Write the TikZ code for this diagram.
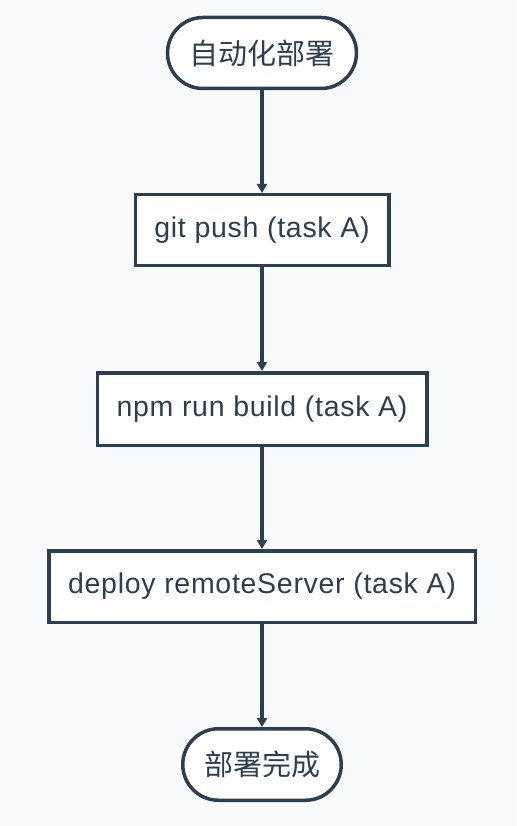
\documentclass[tikz,border=0pt]{standalone}
\usepackage{fontspec}
\usepackage{tikz}
\usetikzlibrary{arrows.meta}
\setmainfont{Liberation Sans}[LetterSpace=2.5]
\newfontfamily\cjk{Noto Sans CJK SC}
\definecolor{ink}{HTML}{2C3E50}
\definecolor{paper}{HTML}{F8F9FB}

\begin{document}
\begin{tikzpicture}[x=1pt,y=-1pt]

  \fill[paper] (0,0) rectangle (516,826);
  \useasboundingbox (0,0) rectangle (516,826);

  \begin{scope}[every node/.style={draw=ink, line width=3.5pt, fill=white,
      text=ink, inner sep=0pt, font=\fontsize{28.5}{32}\selectfont}]
    \node[minimum width=189pt, minimum height=71pt, rounded corners=35.5pt,
      font=\cjk\fontsize{29}{32}\selectfont] (start) at (262,53) {自动化部署};
    \node[minimum width=253.5pt, minimum height=70.5pt] (push)   at (262,230)   {git push (task A)};
    \node[minimum width=329.5pt, minimum height=72.5pt] (build)  at (262,409)   {npm run build (task A)};
    \node[minimum width=426.5pt, minimum height=71.5pt] (deploy) at (262,586.5) {deploy remoteServer (task A)};
    \node[minimum width=158.5pt, minimum height=71.5pt, rounded corners=35.75pt,
      font=\cjk\fontsize{29}{32}\selectfont] (done) at (262,764.5) {部署完成};
  \end{scope}

  \begin{scope}[every edge/.style={draw=ink, line width=3.5pt,
      -{Triangle[width=10pt,length=9pt]}}]
    \path (start)  edge (push);
    \path (push)   edge (build);
    \path (build)  edge (deploy);
    \path (deploy) edge (done);
  \end{scope}

\end{tikzpicture}
\end{document}
